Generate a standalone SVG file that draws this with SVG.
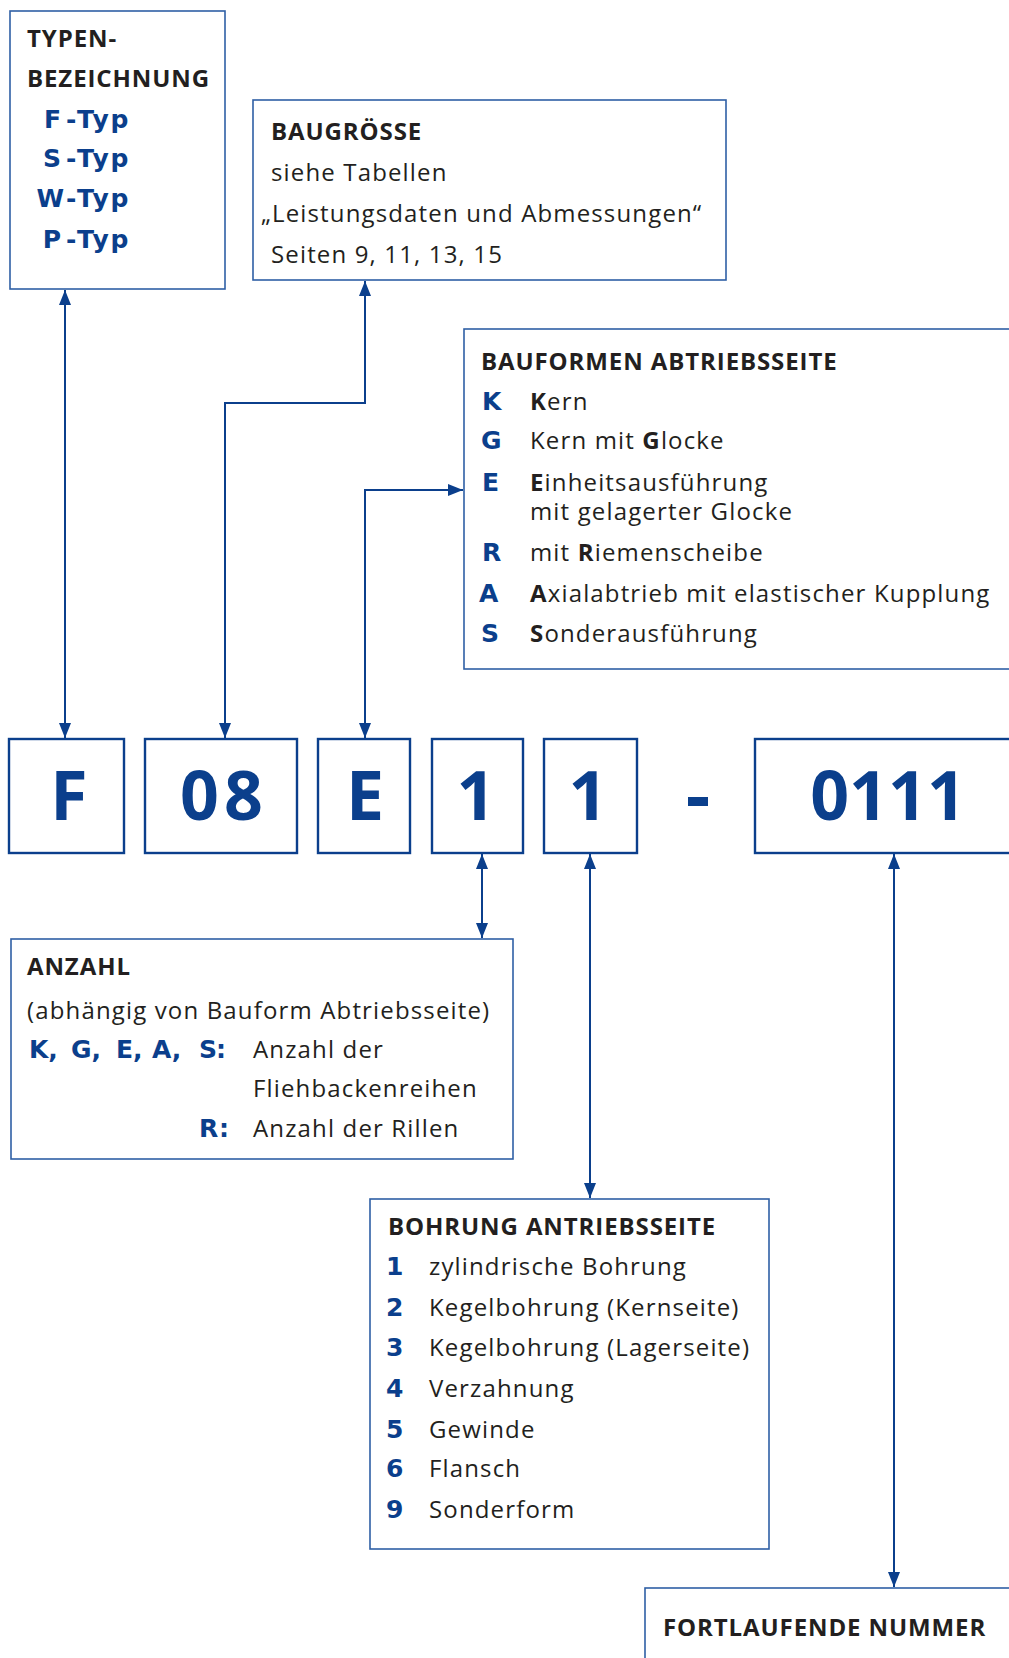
<svg xmlns="http://www.w3.org/2000/svg" width="1009" height="1658" viewBox="0 0 1009 1658">
<style>
.box{fill:#fff;stroke:#2f5fa5;stroke-width:1.6}
.cbox{fill:#fff;stroke:#0b3f8c;stroke-width:2.4}
.t{font-family:"Open Sans","Liberation Sans",sans-serif;font-size:24px;fill:#231f20;letter-spacing:1.15px}
.h{font-weight:bold;letter-spacing:0.9px}
.b{font-family:"DejaVu Sans","Open Sans",sans-serif;font-weight:bold;fill:#0b3f8c;font-size:25px;letter-spacing:0}
.k{font-weight:bold}
.code{font-family:"Open Sans","Liberation Sans",sans-serif;font-size:68px;font-weight:bold;fill:#0b3f8c;text-anchor:middle}
.con{fill:none;stroke:#0b3f8c;stroke-width:2;marker-start:url(#ah);marker-end:url(#ah)}
</style>
<defs>
<marker id="ah" markerUnits="userSpaceOnUse" markerWidth="16" markerHeight="12" refX="15" refY="6" orient="auto-start-reverse">
<path d="M0,0 L15,6 L0,12 z" fill="#0b3f8c"/>
</marker>
</defs>

<g id="connectors">
<path class="con" d="M65,290 L65,738"/>
<path class="con" d="M365,281 L365,403 L225,403 L225,738"/>
<path class="con" d="M365,738 L365,490 L463,490"/>
<path class="con" d="M482,854 L482,938"/>
<path class="con" d="M590,854 L590,1198"/>
<path class="con" d="M894,854 L894,1587"/>
</g>

<g id="typen">
<rect class="box" x="10" y="11" width="215" height="278"/>
<text class="t h" x="27" y="47">TYPEN-</text>
<text class="t h" x="27" y="87">BEZEICHNUNG</text>
<text class="t b" y="128"><tspan x="61" text-anchor="end">F</tspan><tspan x="66">-</tspan><tspan x="77" letter-spacing="1.5">Typ</tspan></text>
<text class="t b" y="167"><tspan x="61" text-anchor="end">S</tspan><tspan x="66">-</tspan><tspan x="77" letter-spacing="1.5">Typ</tspan></text>
<text class="t b" y="207"><tspan x="64" text-anchor="end">W</tspan><tspan x="66">-</tspan><tspan x="77" letter-spacing="1.5">Typ</tspan></text>
<text class="t b" y="248"><tspan x="61" text-anchor="end">P</tspan><tspan x="66">-</tspan><tspan x="77" letter-spacing="1.5">Typ</tspan></text>
</g>

<g id="baugroesse">
<rect class="box" x="253" y="100" width="473" height="180"/>
<text class="t h" x="271" y="140">BAUGRÖSSE</text>
<text class="t" x="271" y="181">siehe Tabellen</text>
<text class="t" x="261" y="222">„Leistungsdaten und Abmessungen“</text>
<text class="t" x="271" y="263">Seiten 9, 11, 13, 15</text>
</g>

<g id="bauformen">
<rect class="box" x="464" y="329" width="600" height="340"/>
<text class="t h" x="481" y="370">BAUFORMEN ABTRIEBSSEITE</text>
<text class="t b" x="482" y="410">K</text>
<text class="t" x="530" y="410"><tspan class="k">K</tspan>ern</text>
<text class="t b" x="481" y="449">G</text>
<text class="t" x="530" y="449">Kern mit <tspan class="k">G</tspan>locke</text>
<text class="t b" x="482" y="491">E</text>
<text class="t" x="530" y="491"><tspan class="k">E</tspan>inheitsausführung</text>
<text class="t" x="530" y="520">mit gelagerter Glocke</text>
<text class="t b" x="482" y="561">R</text>
<text class="t" x="530" y="561">mit <tspan class="k">R</tspan>iemenscheibe</text>
<text class="t b" x="479" y="602">A</text>
<text class="t" x="530" y="602"><tspan class="k">A</tspan>xialabtrieb mit elastischer Kupplung</text>
<text class="t b" x="481" y="642">S</text>
<text class="t" x="530" y="642"><tspan class="k">S</tspan>onderausführung</text>
</g>

<g id="code-f">
<rect class="cbox" x="9" y="739" width="115" height="114"/>
<text class="code" x="69" y="820">F</text>
</g>
<g id="code-08">
<rect class="cbox" x="145" y="739" width="152" height="114"/>
<text class="code" x="224" y="820" letter-spacing="5">08</text>
</g>
<g id="code-e">
<rect class="cbox" x="318" y="739" width="92" height="114"/>
<text class="code" x="365" y="820">E</text>
</g>
<g id="code-1a">
<rect class="cbox" x="432" y="739" width="91" height="114"/>
<text class="code" x="476" y="820">1</text>
</g>
<g id="code-1b">
<rect class="cbox" x="544" y="739" width="93" height="114"/>
<text class="code" x="588" y="820">1</text>
</g>
<g id="dash">
<rect x="688" y="797" width="20" height="9" fill="#0b3f8c"/>
</g>
<g id="code-0111">
<rect class="cbox" x="755" y="739" width="300" height="114"/>
<text class="code" x="888" y="820">0111</text>
</g>

<g id="anzahl">
<rect class="box" x="11" y="939" width="502" height="220"/>
<text class="t h" x="27" y="975">ANZAHL</text>
<text class="t" x="27" y="1019">(abhängig von Bauform Abtriebsseite)</text>
<text class="t b" y="1058"><tspan x="29">K,</tspan><tspan x="71">G,</tspan><tspan x="116">E,</tspan><tspan x="152">A,</tspan><tspan x="199">S</tspan><tspan x="216">:</tspan></text>
<text class="t" x="253" y="1058">Anzahl der</text>
<text class="t" x="253" y="1097">Fliehbackenreihen</text>
<text class="t b" y="1137"><tspan x="199">R</tspan><tspan x="219">:</tspan></text>
<text class="t" x="253" y="1137">Anzahl der Rillen</text>
</g>

<g id="bohrung">
<rect class="box" x="370" y="1199" width="399" height="350"/>
<text class="t h" x="388" y="1235">BOHRUNG ANTRIEBSSEITE</text>
<text class="t b" x="386" y="1275">1</text>
<text class="t" x="429" y="1275">zylindrische Bohrung</text>
<text class="t b" x="386" y="1316">2</text>
<text class="t" x="429" y="1316">Kegelbohrung (Kernseite)</text>
<text class="t b" x="386" y="1356">3</text>
<text class="t" x="429" y="1356">Kegelbohrung (Lagerseite)</text>
<text class="t b" x="386" y="1397">4</text>
<text class="t" x="429" y="1397">Verzahnung</text>
<text class="t b" x="386" y="1438">5</text>
<text class="t" x="429" y="1438">Gewinde</text>
<text class="t b" x="386" y="1477">6</text>
<text class="t" x="429" y="1477">Flansch</text>
<text class="t b" x="386" y="1518">9</text>
<text class="t" x="429" y="1518">Sonderform</text>
</g>

<g id="fortlaufende">
<rect class="box" x="645" y="1588" width="400" height="100"/>
<text class="t h" x="663" y="1636">FORTLAUFENDE NUMMER</text>
</g>
</svg>
